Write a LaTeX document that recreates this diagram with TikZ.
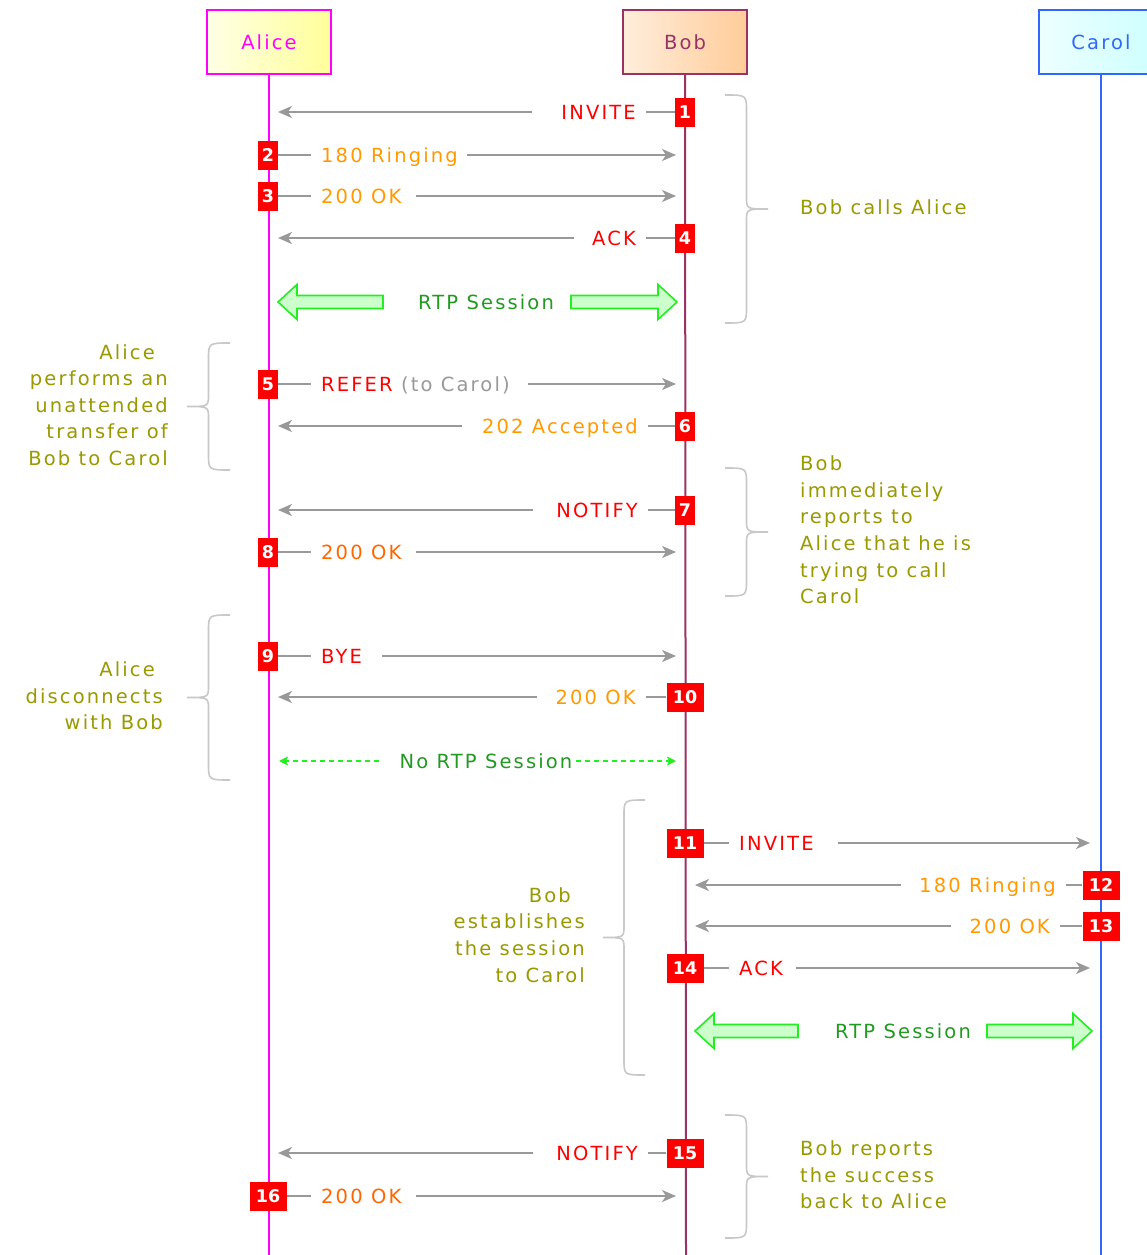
\documentclass[tikz,border=0pt]{standalone}
\usepackage{fontspec}
\setmainfont{DejaVu Sans}[LetterSpace=11]
\newfontfamily\digitfont{DejaVu Sans}
\usetikzlibrary{arrows.meta}

\definecolor{alicec}{HTML}{FF00FF}
\definecolor{alicefill}{HTML}{FFFF99}
\definecolor{bobc}{HTML}{993366}
\definecolor{bobfill}{HTML}{FFCC99}
\definecolor{carolc}{HTML}{3366FF}
\definecolor{carolfill}{HTML}{CCFFFF}
\definecolor{msgred}{HTML}{FF0000}
\definecolor{msgorange}{HTML}{FF9900}
\definecolor{msgdark}{HTML}{FF6600}
\definecolor{arrowgray}{HTML}{999999}
\definecolor{notec}{HTML}{999900}
\definecolor{bracec}{HTML}{C8C8C8}
\definecolor{rtpline}{HTML}{22EE22}
\definecolor{rtpfill}{HTML}{CCFFCC}
\definecolor{rtptext}{HTML}{229922}

\newcommand{\msgfont}{\fontsize{19.5}{26.6}\selectfont}

% hollow block arrow: tail x, tip x, y
\newcommand{\blockarrow}[3]{%
  \pgfmathsetmacro\bahead{#2>#1 ? -19 : 19}%
  \filldraw[fatshape] (#1,#3-6.5) -- (#2+\bahead,#3-6.5) -- (#2+\bahead,#3-17.5)
    -- (#2,#3) -- (#2+\bahead,#3+17.5) -- (#2+\bahead,#3+6.5) -- (#1,#3+6.5) -- cycle;}

% curly brace: base x, top y, bottom y, signed width (tip side)
\newcommand{\curly}[4]{%
  \pgfmathsetmacro\bracemid{(#2+#3)/2}%
  \draw[bracestyle] (#1,#2) .. controls (#1+#4*0.5,#2) .. (#1+#4*0.5,#2+16)
    -- (#1+#4*0.5,\bracemid-12) .. controls (#1+#4*0.5,\bracemid) .. (#1+#4,\bracemid)
    .. controls (#1+#4*0.5,\bracemid) .. (#1+#4*0.5,\bracemid+12)
    -- (#1+#4*0.5,#3-16) .. controls (#1+#4*0.5,#3) .. (#1,#3);}

\begin{document}
\begin{tikzpicture}[x=1pt,y=-1pt,
  party/.style={draw, line width=2pt, minimum width=124pt, minimum height=64pt,
    inner sep=0pt, font=\msgfont},
  lifeline/.style={line width=2pt},
  num/.style={fill=msgred, text=white, font=\digitfont\bfseries\fontsize{17.5}{17.5}\selectfont,
    minimum width=20pt, minimum height=29pt, inner sep=0pt},
  num2/.style={num, minimum width=37pt},
  lbl/.style={inner xsep=10pt, inner ysep=0pt, text height=14pt, text depth=0pt, font=\msgfont},
  msg/.style={draw=arrowgray, line width=2pt, -{Stealth[length=14pt,width=12pt,inset=4pt]}},
  stub/.style={draw=arrowgray, line width=2pt},
  note/.style={text=notec, font=\msgfont, inner sep=0pt},
  bracestyle/.style={draw=bracec, line width=1.6pt},
  fatshape/.style={draw=rtpline, fill=rtpfill, line width=1.6pt, line join=miter},
  rtplbl/.style={text=rtptext, font=\msgfont, inner sep=0pt, text height=14pt, text depth=0pt},
  nortp/.style={draw=rtpline, line width=1.6pt, dash pattern=on 5pt off 4pt,
    -{Stealth[length=9pt,width=9pt,inset=2pt]}}
]
\useasboundingbox (0,0) rectangle (1147,1255);
\clip (0,0) rectangle (1147,1255);
\fill[white] (0,0) rectangle (1147,1255);

% participants
\node[party, draw=alicec, left color=alicefill!25!white, right color=alicefill, text=alicec] (alice) at (269,42) {Alice};
\node[party, draw=bobc, left color=bobfill!35!white, right color=bobfill, text=bobc] (bob) at (685,42) {Bob};
\node[party, draw=carolc, left color=carolfill!35!white, right color=carolfill, text=carolc] (carol) at (1101,42) {Carol};

\coordinate (aliceend) at (269,1256);
\coordinate (bobend) at (686,1256);
\coordinate (carolend) at (1101,1256);
\draw[lifeline, alicec] (alice) -- (aliceend);
\draw[lifeline, bobc] (bob) -- (bobend);
\draw[lifeline, carolc] (carol) -- (carolend);

% 1 INVITE  Bob -> Alice
\node[lbl, anchor=east, text=msgred] (l1) at (646,112) {INVITE};
\coordinate (e1) at (278,112);
\draw[msg] ([xshift=-19pt]l1.west) -- (e1);
\node[num] (n1) at (685,112) {1};
\draw[stub] (n1) -- (l1);

% 2 180 Ringing  Alice -> Bob
\node[lbl, anchor=west, text=msgorange] (l2) at (311,155) {180 Ringing};
\coordinate (e2) at (676,155);
\draw[msg] ([xshift=-1pt]l2.east) -- (e2);
\node[num] (n2) at (268,155) {2};
\draw[stub] (n2) -- (l2);

% 3 200 OK  Alice -> Bob
\node[lbl, anchor=west, text=msgorange] (l3) at (311,196) {200 OK};
\coordinate (e3) at (676,196);
\draw[msg] ([xshift=4pt]l3.east) -- (e3);
\node[num] (n3) at (268,196) {3};
\draw[stub] (n3) -- (l3);

% 4 ACK  Bob -> Alice
\node[lbl, anchor=east, text=msgred] (l4) at (646,238) {ACK};
\coordinate (e4) at (278,238);
\draw[msg] ([xshift=-8pt]l4.west) -- (e4);
\node[num] (n4) at (685,238) {4};
\draw[stub] (n4) -- (l4);

% RTP session Alice <-> Bob
\node[rtplbl] (rtp1) at (486,302) {RTP Session};
\blockarrow{383}{278}{302}
\blockarrow{571}{677}{302}

\curly{725}{95}{323}{43}
\node[note, anchor=west] (note1) at (800,207) {Bob calls Alice};

% 5 REFER  Alice -> Bob
\node[lbl, anchor=west, text=msgred] (l5) at (311,384) {REFER \textcolor{arrowgray}{(to Carol)}};
\coordinate (e5) at (676,384);
\draw[msg] ([xshift=8pt]l5.east) -- (e5);
\node[num] (n5) at (268,384) {5};
\draw[stub] (n5) -- (l5);

% 6 202 Accepted  Bob -> Alice
\node[lbl, anchor=east, text=msgorange] (l6) at (648,426) {202 Accepted};
\coordinate (e6) at (278,426);
\draw[msg] ([xshift=-10pt]l6.west) -- (e6);
\node[num] (n6) at (685,426) {6};
\draw[stub] (n6) -- (l6);

\curly{230}{343}{470}{-43}
\node[note, anchor=east, align=right] (note2) at (168,405)
  {Alice\hspace*{13pt}\\performs an\\unattended\\transfer of\\Bob to Carol};

% 7 NOTIFY  Bob -> Alice
\node[lbl, anchor=east, text=msgred] (l7) at (648,510) {NOTIFY};
\coordinate (e7) at (278,510);
\draw[msg] ([xshift=-13pt]l7.west) -- (e7);
\node[num] (n7) at (685,510) {7};
\draw[stub] (n7) -- (l7);

% 8 200 OK  Alice -> Bob
\node[lbl, anchor=west, text=msgdark] (l8) at (311,552) {200 OK};
\coordinate (e8) at (676,552);
\draw[msg] ([xshift=4pt]l8.east) -- (e8);
\node[num] (n8) at (268,552) {8};
\draw[stub] (n8) -- (l8);

\curly{725}{468}{596}{43}
\node[note, anchor=west, align=left] (note3) at (800,530)
  {Bob\\immediately\\reports to\\Alice that he is\\trying to call\\Carol};

% 9 BYE  Alice -> Bob
\node[lbl, anchor=west, text=msgred] (l9) at (311,656) {BYE};
\coordinate (e9) at (676,656);
\draw[msg] ([xshift=10pt]l9.east) -- (e9);
\node[num] (n9) at (268,656) {9};
\draw[stub] (n9) -- (l9);

% 10 200 OK  Bob -> Alice
\node[lbl, anchor=east, text=msgorange] (l10) at (646,697) {200 OK};
\coordinate (e10) at (278,697);
\draw[msg] ([xshift=-8pt]l10.west) -- (e10);
\node[num2] (n10) at (685,697) {10};
\draw[stub] (n10) -- (l10);

% no RTP session
\node[rtplbl] (nortp) at (486,761) {No RTP Session};
\coordinate (nl) at (279,761);
\coordinate (nr) at (676,761);
\draw[nortp] ([xshift=-20pt]nortp.west) -- (nl);
\draw[nortp] ([xshift=3pt]nortp.east) -- (nr);

\curly{230}{615}{780}{-43}
\node[note, anchor=east, align=right] (note4) at (163,696)
  {Alice\hspace*{8pt}\\disconnects\\with Bob};

% 11 INVITE  Bob -> Carol
\node[lbl, anchor=west, text=msgred] (l11) at (729,843) {INVITE};
\coordinate (e11) at (1090,843);
\draw[msg] ([xshift=14pt]l11.east) -- (e11);
\node[num2] (n11) at (685,843) {11};
\draw[stub] (n11) -- (l11);

% 12 180 Ringing  Carol -> Bob
\node[lbl, anchor=east, text=msgorange] (l12) at (1066,885) {180 Ringing};
\coordinate (e12) at (695,885);
\draw[msg] ([xshift=-8pt]l12.west) -- (e12);
\node[num2] (n12) at (1101,885) {12};
\draw[stub] (n12) -- (l12);

% 13 200 OK  Carol -> Bob
\node[lbl, anchor=east, text=msgorange] (l13) at (1060,926) {200 OK};
\coordinate (e13) at (695,926);
\draw[msg] ([xshift=-8pt]l13.west) -- (e13);
\node[num2] (n13) at (1101,926) {13};
\draw[stub] (n13) -- (l13);

% 14 ACK  Bob -> Carol
\node[lbl, anchor=west, text=msgred] (l14) at (729,968) {ACK};
\coordinate (e14) at (1090,968);
\draw[msg] ([xshift=3pt]l14.east) -- (e14);
\node[num2] (n14) at (685,968) {14};
\draw[stub] (n14) -- (l14);

% RTP session Bob <-> Carol
\node[rtplbl] (rtp2) at (903,1031) {RTP Session};
\blockarrow{798}{695}{1031}
\blockarrow{987}{1092}{1031}

\curly{645}{800}{1075}{-42}
\node[note, anchor=east, align=right] (note5) at (585,935)
  {Bob\hspace*{14pt}\\establishes\\the session\\to Carol};

% 15 NOTIFY  Bob -> Alice
\node[lbl, anchor=east, text=msgred] (l15) at (648,1153) {NOTIFY};
\coordinate (e15) at (278,1153);
\draw[msg] ([xshift=-13pt]l15.west) -- (e15);
\node[num2] (n15) at (685,1153) {15};
\draw[stub] (n15) -- (l15);

% 16 200 OK  Alice -> Bob
\node[lbl, anchor=west, text=msgdark] (l16) at (311,1196) {200 OK};
\coordinate (e16) at (676,1196);
\draw[msg] ([xshift=4pt]l16.east) -- (e16);
\node[num2] (n16) at (268,1196) {16};
\draw[stub] (n16) -- (l16);

\curly{725}{1115}{1238}{43}
\node[note, anchor=west, align=left] (note6) at (800,1175)
  {Bob reports\\the success\\back to Alice};
\end{tikzpicture}
\end{document}
